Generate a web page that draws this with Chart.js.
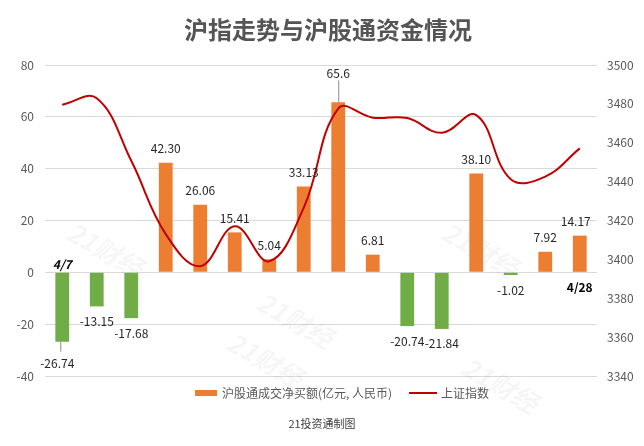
<!DOCTYPE html>
<html>
<head>
<meta charset="utf-8">
<script src="https://cdn.jsdelivr.net/npm/chart.js@4"></script>
<style>
  html, body { margin: 0; background: #fff; }
</style>
</head>
<body>
<canvas id="chart" width="644" height="446"></canvas>
<script>
const dates = ['4/7', '4/8', '4/9', '4/12', '4/13', '4/14', '4/15', '4/16',
  '4/19', '4/20', '4/21', '4/22', '4/23', '4/26', '4/27', '4/28'];
const netBuy = [-26.74, -13.15, -17.68, 42.30, 26.06, 15.41, 5.04, 33.13,
  65.6, 6.81, -20.74, -21.84, 38.10, -1.02, 7.92, 14.17];
const netBuyText = ['-26.74', '-13.15', '-17.68', '42.30', '26.06', '15.41', '5.04', '33.13',
  '65.6', '6.81', '-20.74', '-21.84', '38.10', '-1.02', '7.92', '14.17'];
const shIndex = [3479.6, 3482.9, 3450.7, 3413.0, 3396.5, 3417.0, 3399.0, 3426.6,
  3477.6, 3472.9, 3472.7, 3465.1, 3474.2, 3441.2, 3442.6, 3457.1];
const leftTicks = [-40, -20, 0, 20, 40, 60, 80];
const rightTicks = [3340, 3360, 3380, 3400, 3420, 3440, 3460, 3480, 3500];

const ORANGE = '#ED7D31';
const GREEN = '#70AD47';
const RED = '#C00000';
const FONT = '"Noto Sans CJK SC", "Noto Sans", sans-serif';

// labels, title, legend and watermark drawn straight on the canvas
const decor = {
  id: 'decor',
  beforeDatasetsDraw(chart) {
    const ctx = chart.ctx;
    ctx.save();
    ctx.font = 'bold italic 26px ' + FONT;
    ctx.fillStyle = 'rgba(0,0,0,0.035)';
    ctx.textAlign = 'center';
    ctx.textBaseline = 'middle';
    [[105, 250], [295, 320], [480, 250], [265, 360], [500, 385]].forEach(([x, y]) => {
      ctx.save();
      ctx.translate(x, y);
      ctx.rotate(Math.PI / 6);
      ctx.fillText('21财经', 0, 0);
      ctx.restore();
    });
    ctx.restore();
  },
  afterDraw(chart) {
    const ctx = chart.ctx;
    const meta = chart.getDatasetMeta(0);
    ctx.save();
    ctx.textAlign = 'center';
    ctx.textBaseline = 'middle';
    ctx.font = '12px ' + FONT;
    ctx.fillStyle = '#262626';
    ctx.strokeStyle = '#8c8c8c';
    ctx.lineWidth = 1;
    meta.data.forEach((bar, i) => {
      const v = netBuy[i];
      let x = bar.x;
      let y = v >= 0 ? bar.y - 14 : bar.y + 15;
      if (i === 8) {
        ctx.beginPath();
        ctx.moveTo(x + 0.5, bar.y);
        ctx.lineTo(x + 0.5, bar.y - 22);
        ctx.stroke();
        y = bar.y - 29;
      }
      if (i === 0) {
        ctx.beginPath();
        ctx.moveTo(x - 1.5, bar.y);
        ctx.lineTo(x - 1.5, bar.y + 10);
        ctx.stroke();
        y = bar.y + 22;
        x -= 5;
      }
      if (i === 15) x -= 4;
      ctx.fillText(netBuyText[i], x, y);
    });

    // first / last date marks
    const first = meta.data[0], last = meta.data[meta.data.length - 1];
    ctx.fillStyle = '#000';
    ctx.font = 'italic bold 12px ' + FONT;
    ctx.fillText(dates[0], first.x, chart.scales.y.getPixelForValue(0) - 8);
    ctx.font = 'bold 12px ' + FONT;
    ctx.fillText(dates[dates.length - 1], last.x, chart.scales.y.getPixelForValue(0) + 15);

    // title
    ctx.fillStyle = '#555555';
    ctx.font = 'bold 24px ' + FONT;
    ctx.fillText('沪指走势与沪股通资金情况', 328, 30);

    // legend
    ctx.textAlign = 'left';
    ctx.font = '12px ' + FONT;
    ctx.fillStyle = ORANGE;
    ctx.fillRect(195, 390, 22, 6);
    ctx.fillStyle = '#595959';
    ctx.fillText('沪股通成交净买额(亿元, 人民币)', 222, 393);
    ctx.strokeStyle = RED;
    ctx.lineWidth = 2;
    ctx.beginPath();
    ctx.moveTo(409, 393);
    ctx.lineTo(437, 393);
    ctx.stroke();
    ctx.fillText('上证指数', 441, 393);

    ctx.textAlign = 'center';
    ctx.font = '11px ' + FONT;
    ctx.fillStyle = '#404040';
    ctx.fillText('21投资通制图', 322, 424);
    ctx.restore();
  }
};

new Chart(document.getElementById('chart'), {
  data: {
    labels: dates,
    datasets: [
      {
        type: 'bar',
        label: '沪股通成交净买额(亿元, 人民币)',
        data: netBuy,
        backgroundColor: netBuy.map(v => v >= 0 ? ORANGE : GREEN),
        barPercentage: 0.4,
        categoryPercentage: 1,
        yAxisID: 'y',
        order: 2
      },
      {
        type: 'line',
        label: '上证指数',
        data: shIndex,
        borderColor: RED,
        borderWidth: 2,
        pointRadius: 0,
        tension: 0.4,
        yAxisID: 'y2',
        order: 1
      }
    ]
  },
  options: {
    responsive: false,
    animation: false,
    devicePixelRatio: 1,
    layout: { padding: { top: 65, bottom: 70 } },
    plugins: {
      legend: { display: false },
      title: { display: false },
      tooltip: { enabled: false }
    },
    scales: {
      x: { display: false },
      y: {
        position: 'left',
        min: leftTicks[0],
        max: leftTicks[leftTicks.length - 1],
        afterBuildTicks: s => { s.ticks = leftTicks.map(v => ({ value: v })); },
        afterFit: s => { s.width = 45; },
        border: { display: false },
        grid: { color: '#d9d9d9', drawTicks: false },
        ticks: { padding: 11, color: '#595959', font: { family: FONT, size: 12 } }
      },
      y2: {
        position: 'right',
        min: rightTicks[0],
        max: rightTicks[rightTicks.length - 1],
        afterBuildTicks: s => { s.ticks = rightTicks.map(v => ({ value: v })); },
        afterFit: s => { s.width = 47; },
        border: { display: false },
        grid: { display: false, drawTicks: false },
        ticks: {
          padding: 10, color: '#595959', font: { family: FONT, size: 12 },
          callback: v => String(v)
        }
      }
    }
  },
  plugins: [decor]
});
</script>
</body>
</html>
